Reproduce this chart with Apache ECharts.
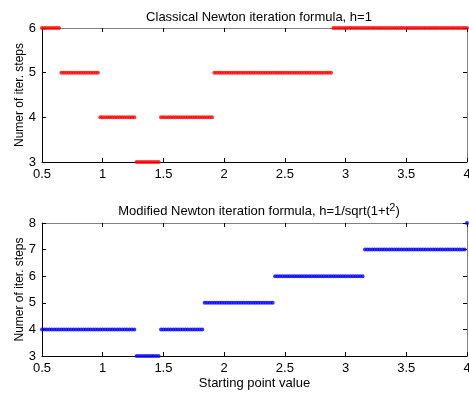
<!DOCTYPE html>
<html>
<head>
<meta charset="utf-8">
<script src="https://cdn.jsdelivr.net/npm/echarts@6/dist/echarts.min.js"></script>
<style>
html,body{margin:0;padding:0;background:#fff;}
#chart{width:469px;height:393px;}
</style>
</head>
<body>
<div id="chart"></div>
<script>
// starting points were sampled every 0.02 on [0.5, 4]
var sampleStep = 0.02;

// classical Newton, h=1 : runs of equal iteration counts
var classicalStart = [0.50, 0.66, 0.98, 1.28, 1.48, 1.92, 2.90];
var classicalEnd   = [0.64, 0.96, 1.26, 1.46, 1.90, 2.88, 4.00];
var classicalSteps = [6, 5, 4, 3, 4, 5, 6];

// modified Newton, h=1/sqrt(1+t^2)
var modifiedStart = [0.50, 1.28, 1.48, 1.84, 2.42, 3.16, 4.00];
var modifiedEnd   = [1.26, 1.46, 1.82, 2.40, 3.14, 3.98, 4.00];
var modifiedSteps = [4, 3, 4, 5, 6, 7, 8];

var xTicks = [0.5, 1, 1.5, 2, 2.5, 3, 3.5, 4];

function expand(starts, ends, steps)
{
    var pts = [];
    for (var i = 0; i < starts.length; i++)
    {
        var n = Math.round((ends[i] - starts[i]) / sampleStep);
        for (var k = 0; k <= n; k++)
        {
            pts.push([+(starts[i] + k * sampleStep).toFixed(2), steps[i]]);
        }
    }
    return pts;
}

var font = 'Liberation Sans, Arial, sans-serif';
var myChart = echarts.init(document.getElementById('chart'));

function mainX(grid, name)
{
    return {
        type: 'value', gridIndex: grid, min: xTicks[0], max: xTicks[xTicks.length - 1], interval: 0.5,
        position: 'bottom',
        name: name, nameLocation: 'middle', nameGap: 21,
        nameTextStyle: {color: '#000', fontFamily: font, fontSize: 13},
        axisLine: {show: true, onZero: false, lineStyle: {color: '#000', width: 1}},
        axisTick: {show: true, inside: true, length: 4, lineStyle: {color: '#000'}},
        axisLabel: {color: '#000', fontFamily: font, fontSize: 13, margin: 6, hideOverlap: false},
        splitLine: {show: false}
    };
}
function topX(grid)
{
    return {
        type: 'value', gridIndex: grid, min: xTicks[0], max: xTicks[xTicks.length - 1], interval: 0.5,
        position: 'top',
        axisLine: {show: true, onZero: false, lineStyle: {color: '#7f7f7f', width: 1}},
        axisTick: {show: true, inside: true, length: 4, lineStyle: {color: '#000'}},
        axisLabel: {show: false},
        splitLine: {show: false}
    };
}
function mainY(grid, min, max)
{
    return {
        type: 'value', gridIndex: grid, min: min, max: max, interval: 1,
        position: 'left',
        name: 'Numer of iter. steps', nameLocation: 'middle', nameGap: 16, nameRotate: 90,
        nameMoveOverlap: false,
        nameTextStyle: {color: '#000', fontFamily: font, fontSize: 12},
        axisLine: {show: true, onZero: false, lineStyle: {color: '#000', width: 1}},
        axisTick: {show: true, inside: true, length: 4, lineStyle: {color: '#000'}},
        axisLabel: {color: '#000', fontFamily: font, fontSize: 13, margin: 6},
        splitLine: {show: false}
    };
}
function rightY(grid, min, max)
{
    return {
        type: 'value', gridIndex: grid, min: min, max: max, interval: 1,
        position: 'right',
        axisLine: {show: true, onZero: false, lineStyle: {color: '#7f7f7f', width: 1}},
        axisTick: {show: true, inside: true, length: 4, lineStyle: {color: '#000'}},
        axisLabel: {show: false},
        splitLine: {show: false}
    };
}

var option = {
    animation: false,
    backgroundColor: '#fff',
    title: [
        {
            text: 'Classical Newton iteration formula, h=1',
            left: 254, top: 6, textAlign: 'center',
            textStyle: {fontFamily: font, fontSize: 13, fontWeight: 'normal', color: '#000'}
        },
        {
            text: 'Modified Newton iteration formula, h=1/sqrt(1+t{sup|2})',
            left: 254, top: 197, textAlign: 'center',
            textStyle: {
                fontFamily: font, fontSize: 13, fontWeight: 'normal', color: '#000',
                rich: {sup: {fontFamily: font, fontSize: 11, color: '#000', verticalAlign: 'top', padding: [0, 0, 8, 0]}}
            }
        }
    ],
    grid: [
        {left: 42, top: 28, width: 425, height: 134, outerBoundsMode: 'none'},
        {left: 42, top: 223, width: 425, height: 133, outerBoundsMode: 'none'}
    ],
    xAxis: [mainX(0, ''), topX(0), mainX(1, 'Starting point value'), topX(1)],
    yAxis: [mainY(0, 3, 6), rightY(0, 3, 6), mainY(1, 3, 8), rightY(1, 3, 8)],
    series: [
        {
            type: 'scatter', xAxisIndex: 0, yAxisIndex: 0,
            symbol: 'circle', symbolSize: 4, clip: false,
            itemStyle: {color: '#ff0000'},
            data: expand(classicalStart, classicalEnd, classicalSteps)
        },
        {
            type: 'scatter', xAxisIndex: 2, yAxisIndex: 2,
            symbol: 'circle', symbolSize: 4, clip: false,
            itemStyle: {color: '#0000ff'},
            data: expand(modifiedStart, modifiedEnd, modifiedSteps)
        }
    ]
};
myChart.setOption(option);
</script>
</body>
</html>
